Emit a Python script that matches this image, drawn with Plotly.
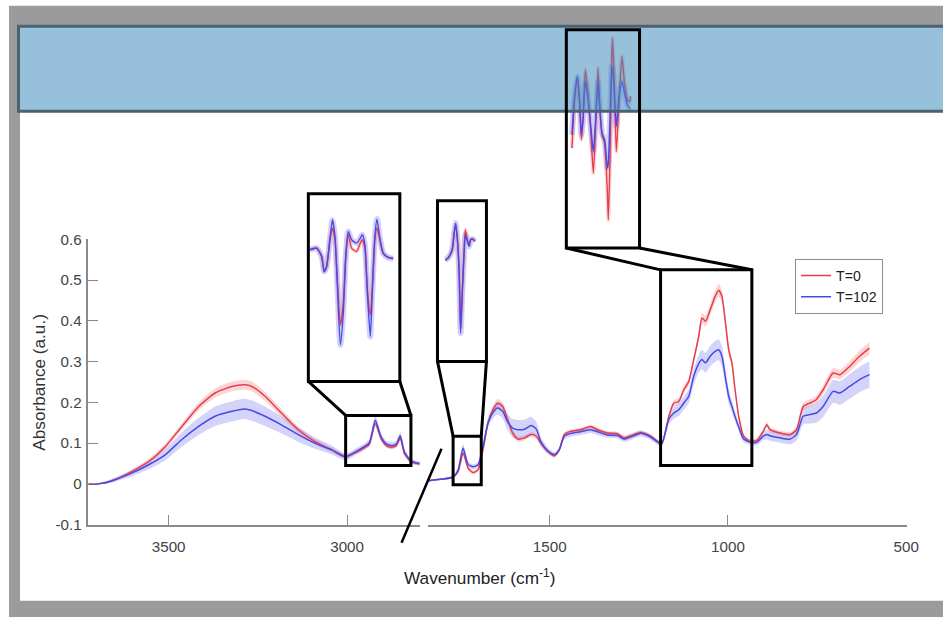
import plotly.graph_objects as go

# ---------------- data ----------------
# main spectrum, high-wavenumber segment
wn_left = [3725, 3700, 3685, 3670, 3649, 3602, 3556, 3509, 3463, 3416, 3370, 3323, 3286, 3267, 3230,
           3184, 3137, 3090, 3044, 3004, 2974, 2951, 2937, 2921, 2904, 2890, 2876, 2862, 2851, 2839,
           2820, 2797]
red_left = [0.0, 0.0, 0.002, 0.005, 0.011, 0.031, 0.055, 0.092, 0.141, 0.190, 0.223, 0.239, 0.243, 0.239, 0.215,
            0.174, 0.133, 0.104, 0.084, 0.068, 0.078, 0.089, 0.098, 0.148, 0.110, 0.094, 0.090, 0.094, 0.112, 0.074,
            0.054, 0.049]
red_left_sd = [0.002, 0.002, 0.002, 0.003, 0.004, 0.005, 0.006, 0.007, 0.008, 0.010, 0.011, 0.012, 0.012, 0.012, 0.011,
               0.010, 0.008, 0.007, 0.006, 0.005, 0.005, 0.005, 0.005, 0.008, 0.006, 0.005, 0.005, 0.005, 0.006, 0.005,
               0.004, 0.004]
blue_left = [0.0, 0.0, 0.002, 0.005, 0.011, 0.027, 0.047, 0.072, 0.109, 0.141, 0.166, 0.178, 0.184, 0.180, 0.166,
             0.145, 0.121, 0.100, 0.084, 0.066, 0.080, 0.092, 0.102, 0.156, 0.114, 0.098, 0.094, 0.098, 0.118, 0.078,
             0.056, 0.050]
blue_left_sd = [0.002, 0.002, 0.003, 0.004, 0.005, 0.008, 0.011, 0.014, 0.018, 0.021, 0.024, 0.025, 0.025, 0.025, 0.024,
                0.021, 0.018, 0.014, 0.011, 0.008, 0.008, 0.008, 0.009, 0.012, 0.009, 0.008, 0.008, 0.008, 0.009, 0.007,
                0.006, 0.005]

# main spectrum, fingerprint segment
wn_right = [1840, 1800, 1771, 1757, 1743, 1729, 1715, 1701, 1687, 1673, 1659, 1646, 1632, 1618, 1604,
            1589, 1571, 1552, 1538, 1525, 1506, 1487, 1473, 1459, 1440, 1413, 1385, 1366, 1338, 1310,
            1292, 1264, 1245, 1217, 1194, 1185, 1166, 1152, 1138, 1124, 1110, 1096, 1082, 1073, 1063,
            1050, 1036, 1026, 1017, 1007, 998, 989, 980, 970, 956, 938, 919, 901, 891, 882,
            854, 826, 808, 789, 771, 752, 733, 705, 686, 659, 631, 603]
red_right = [0.008, 0.012, 0.017, 0.030, 0.076, 0.039, 0.028, 0.035, 0.084, 0.150, 0.182, 0.198, 0.190, 0.158, 0.125,
             0.110, 0.113, 0.121, 0.117, 0.100, 0.080, 0.069, 0.084, 0.121, 0.129, 0.133, 0.141, 0.133, 0.125, 0.123,
             0.113, 0.121, 0.126, 0.117, 0.102, 0.100, 0.166, 0.198, 0.202, 0.231, 0.251, 0.305, 0.362, 0.407, 0.399,
             0.427, 0.460, 0.475, 0.460, 0.395, 0.329, 0.297, 0.231, 0.166, 0.117, 0.104, 0.107, 0.129, 0.145, 0.133,
             0.125, 0.121, 0.133, 0.190, 0.198, 0.207, 0.231, 0.272, 0.268, 0.288, 0.313, 0.333]
red_right_sd = [0.002, 0.002, 0.003, 0.004, 0.006, 0.005, 0.005, 0.005, 0.007, 0.009, 0.010, 0.011, 0.010, 0.009, 0.008,
                0.007, 0.006, 0.006, 0.006, 0.006, 0.005, 0.005, 0.005, 0.005, 0.005, 0.005, 0.005, 0.005, 0.005, 0.005,
                0.005, 0.005, 0.005, 0.005, 0.005, 0.005, 0.007, 0.008, 0.008, 0.009, 0.010, 0.011, 0.012, 0.013, 0.013,
                0.014, 0.015, 0.016, 0.015, 0.013, 0.011, 0.010, 0.008, 0.007, 0.005, 0.005, 0.005, 0.006, 0.006, 0.006,
                0.006, 0.006, 0.007, 0.009, 0.009, 0.010, 0.011, 0.012, 0.012, 0.013, 0.014, 0.015]
blue_right = [0.008, 0.012, 0.017, 0.034, 0.088, 0.048, 0.042, 0.047, 0.092, 0.150, 0.175, 0.186, 0.178, 0.152, 0.137,
              0.133, 0.134, 0.143, 0.135, 0.104, 0.082, 0.072, 0.084, 0.117, 0.124, 0.128, 0.133, 0.128, 0.120, 0.119,
              0.110, 0.118, 0.124, 0.115, 0.101, 0.100, 0.158, 0.174, 0.182, 0.198, 0.215, 0.264, 0.295, 0.305, 0.297,
              0.313, 0.325, 0.329, 0.313, 0.260, 0.215, 0.190, 0.165, 0.140, 0.110, 0.103, 0.102, 0.117, 0.121, 0.118,
              0.113, 0.110, 0.121, 0.166, 0.170, 0.174, 0.190, 0.227, 0.223, 0.239, 0.256, 0.268]
blue_right_sd = [0.002, 0.002, 0.003, 0.005, 0.010, 0.007, 0.006, 0.007, 0.010, 0.012, 0.014, 0.016, 0.018, 0.020, 0.022,
                 0.024, 0.024, 0.022, 0.018, 0.012, 0.008, 0.006, 0.006, 0.007, 0.008, 0.008, 0.008, 0.008, 0.007, 0.007,
                 0.007, 0.007, 0.007, 0.007, 0.006, 0.006, 0.012, 0.014, 0.015, 0.016, 0.018, 0.020, 0.022, 0.024, 0.024,
                 0.025, 0.026, 0.026, 0.025, 0.022, 0.018, 0.015, 0.012, 0.010, 0.008, 0.007, 0.007, 0.010, 0.012, 0.012,
                 0.012, 0.013, 0.015, 0.020, 0.022, 0.024, 0.026, 0.028, 0.029, 0.030, 0.031, 0.032]

# inset A : C-H stretch region (second derivative, a.u.)
insetA_wn = [3000, 2984, 2972, 2966, 2960, 2952, 2946, 2940, 2934, 2927, 2920, 2914, 2908, 2900, 2888,
             2879, 2874, 2868, 2862, 2855, 2850, 2844, 2839, 2832, 2824, 2812, 2800]
insetA_red = [0.20, 0.25, 0.00, -0.45, -0.30, 0.50, 0.85, 0.50, -0.80, -2.05, -1.40, 0.00, 0.65, 0.25, 0.15,
              0.40, 0.50, 0.25, -1.00, -1.75, -0.90, 0.50, 0.85, 0.50, 0.10, -0.03, -0.06]
insetA_blue = [0.20, 0.25, 0.00, -0.45, -0.30, 0.55, 1.10, 0.60, -0.90, -2.65, -1.70, 0.00, 0.75, 0.50, 0.40,
               0.55, 0.65, 0.35, -1.10, -2.40, -1.00, 0.60, 1.12, 0.55, 0.10, -0.03, -0.06]

# inset B : C=O region
insetB_wn = [1780, 1771, 1757, 1750, 1745, 1739, 1733, 1728, 1722, 1716, 1712, 1705, 1699, 1694, 1686, 1680]
insetB_red = [-0.12, -0.05, 0.20, 0.70, 0.95, 0.50, -0.50, -2.15, -1.00, 0.20, 0.80, 0.50, 0.35, 0.50, 0.52, 0.45]
insetB_blue = [-0.10, -0.05, 0.20, 0.72, 1.00, 0.50, -0.50, -2.30, -1.00, 0.15, 0.65, 0.45, 0.30, 0.50, 0.52, 0.45]

# inset C : 1200-950 region
insetC_wn = [1200, 1189, 1177, 1167, 1160, 1153, 1143, 1132, 1120, 1109, 1099, 1089, 1082, 1072, 1061,
             1049, 1045, 1038, 1030, 1027, 1021, 1011, 1000, 987, 976, 964, 954, 950]
insetC_red = [-0.85, 0.60, 1.25, 0.50, -0.60, 0.00, 1.50, 0.80, -0.30, -1.60, -0.20, 1.55, 0.50, -0.45, -0.70,
              -2.20, -3.00, -1.20, 2.00, 2.45, 1.40, -0.95, 0.50, 1.90, 1.10, 0.60, 0.55, 0.70]
insetC_blue = [-0.45, 0.70, 1.30, 0.50, -0.45, 0.00, 1.15, 0.65, -0.20, -0.95, 0.00, 1.15, 0.40, -0.40, -0.60,
               -1.45, -1.30, 0.00, 1.60, 1.50, 1.00, -0.20, 0.70, 1.15, 0.80, 0.45, 0.35, 0.35]

series_names = ["T=0", "T=102"]
y_tick_vals = [-0.1, 0, 0.1, 0.2, 0.3, 0.4, 0.5, 0.6]
y_tick_text = ["-0.1", "0", "0.1", "0.2", "0.3", "0.4", "0.5", "0.6"]
x_left_ticks = [3500, 3000]
x_right_ticks = [1500, 1000, 500]

# ---------------- layout helpers ----------------
# figure canvas; positions below are given in target-picture pixels and mapped to paper fractions
W, H = 956, 626
SX, OX = 0.9886, -2.0     # observed picture mapping: out = OX + SX * canvas
SY, OY = 0.973, 9.2
def fx(p): return ((p - OX) / SX) / W
def fy(p): return 1 - ((p - OY) / SY) / H
FS = 1.0 / SX             # font compensation

RED = "rgb(232,62,72)"
BLUE = "rgb(72,72,232)"
RED_FILL = "rgba(240,100,105,0.28)"
BLUE_FILL = "rgba(100,100,240,0.28)"
FONT = "Liberation Sans, Arial, sans-serif"

XL_RANGE = [3725, 2795]
XR_RANGE = [1840, 498]
Y_RANGE = [-0.1, 0.6]
XL_DOM = [fx(86.5), fx(418.7)]
XR_DOM = [fx(427), fx(906)]
Y_DOM = [fy(525), fy(239.5)]

INSETS = {
    "A": dict(xd=[fx(306.7), fx(398.3)], yd=[fy(381.7), fy(194)], xr=[3004, 2784], yr=[-3.75, 1.88]),
    "B": dict(xd=[fx(436), fx(485)], yd=[fy(361.7), fy(201)], xr=[1807, 1640], yr=[-3.15, 1.67]),
    "C": dict(xd=[fx(565), fx(638.3)], yd=[fy(248.3), fy(30)], xr=[1224, 912], yr=[-3.85, 2.7]),
}
# small boxes on the main axes (data coordinates)
SMALL = {
    "A": dict(ax="x", x0=3004, x1=2821, y0=0.045, y1=0.168),
    "B": dict(ax="x2", x0=1771, x1=1692, y0=-0.002, y1=0.117),
    "C": dict(ax="x2", x0=1189, x1=933, y0=0.045, y1=0.525),
}

def data_to_paper_x(w, ax):
    dom, rng = (XL_DOM, XL_RANGE) if ax == "x" else (XR_DOM, XR_RANGE)
    return dom[0] + (w - rng[0]) / (rng[1] - rng[0]) * (dom[1] - dom[0])

def data_to_paper_y(v):
    return Y_DOM[0] + (v - Y_RANGE[0]) / (Y_RANGE[1] - Y_RANGE[0]) * (Y_DOM[1] - Y_DOM[0])

fig = go.Figure()

def add_band(x, m, sd, fill, xa):
    lo = [a - b for a, b in zip(m, sd)]
    hi = [a + b for a, b in zip(m, sd)]
    fig.add_trace(go.Scatter(x=x, y=lo, mode="lines", line=dict(width=0, shape="spline", smoothing=0.6),
                             xaxis=xa, yaxis="y", showlegend=False, hoverinfo="skip"))
    fig.add_trace(go.Scatter(x=x, y=hi, mode="lines", line=dict(width=0, shape="spline", smoothing=0.6),
                             fill="tonexty", fillcolor=fill, xaxis=xa, yaxis="y",
                             showlegend=False, hoverinfo="skip"))

for xs, r, rsd, b, bsd, xa in [(wn_left, red_left, red_left_sd, blue_left, blue_left_sd, "x"),
                                (wn_right, red_right, red_right_sd, blue_right, blue_right_sd, "x2")]:
    add_band(xs, r, rsd, RED_FILL, xa)
    add_band(xs, b, bsd, BLUE_FILL, xa)
    fig.add_trace(go.Scatter(x=xs, y=r, mode="lines", name=series_names[0],
                             line=dict(color=RED, width=1.5, shape="spline", smoothing=0.6),
                             xaxis=xa, yaxis="y", showlegend=(xa == "x"), legendrank=1))
    fig.add_trace(go.Scatter(x=xs, y=b, mode="lines", name=series_names[1],
                             line=dict(color=BLUE, width=1.5, shape="spline", smoothing=0.6),
                             xaxis=xa, yaxis="y", showlegend=(xa == "x"), legendrank=2))

inset_data = {"A": (insetA_wn, insetA_red, insetA_blue),
              "B": (insetB_wn, insetB_red, insetB_blue),
              "C": (insetC_wn, insetC_red, insetC_blue)}
axis_ids = {"A": "3", "B": "4", "C": "5"}
for key, (xs, r, b) in inset_data.items():
    n = axis_ids[key]
    xa, ya = "x" + n, "y" + n
    for y, col, w in [(r, "rgba(240,100,105,0.25)", 4), (b, "rgba(100,100,240,0.28)", 6)]:
        fig.add_trace(go.Scatter(x=xs, y=y, mode="lines", line=dict(color=col, width=w, shape="spline", smoothing=0.6),
                                 xaxis=xa, yaxis=ya, showlegend=False, hoverinfo="skip"))
    fig.add_trace(go.Scatter(x=xs, y=r, mode="lines", line=dict(color=RED, width=1.4, shape="spline", smoothing=0.6),
                             xaxis=xa, yaxis=ya, showlegend=False))
    fig.add_trace(go.Scatter(x=xs, y=b, mode="lines", line=dict(color=BLUE, width=1.4, shape="spline", smoothing=0.6),
                             xaxis=xa, yaxis=ya, showlegend=False))

axis_common = dict(showline=True, linecolor="#8a8a8a", linewidth=1.5, ticks="inside", ticklen=10,
                   tickcolor="#8a8a8a", tickwidth=1.2, showgrid=False, zeroline=False,
                   tickfont=dict(family=FONT, size=15 * FS, color="#444444"))
layout = dict(
    width=W, height=H, margin=dict(l=0, r=0, t=0, b=0),
    paper_bgcolor="white", plot_bgcolor="rgba(0,0,0,0)",
    xaxis=dict(domain=XL_DOM, range=XL_RANGE, anchor="y", tickvals=x_left_ticks,
               ticktext=[str(v) for v in x_left_ticks], ticklabelstandoff=7, **axis_common),
    xaxis2=dict(domain=XR_DOM, range=XR_RANGE, anchor="y", tickvals=x_right_ticks,
                ticktext=[str(v) for v in x_right_ticks], ticklabelstandoff=7, **axis_common),
    yaxis=dict(domain=Y_DOM, range=Y_RANGE, anchor="x", tickvals=y_tick_vals, ticktext=y_tick_text,
               ticklabelstandoff=2, **axis_common),
    showlegend=True,
    legend=dict(x=fx(794), y=fy(259), xanchor="left", yanchor="top", bgcolor="white",
                bordercolor="#8c8c8c", borderwidth=1, font=dict(family=FONT, size=14 * FS, color="#222222"),
                tracegroupgap=0, itemwidth=30, traceorder="normal"),
)
for key, n in axis_ids.items():
    ins = INSETS[key]
    layout["xaxis" + n] = dict(domain=ins["xd"], range=ins["xr"], anchor="y" + n, visible=False)
    layout["yaxis" + n] = dict(domain=ins["yd"], range=ins["yr"], anchor="x" + n, visible=False)
fig.update_layout(**layout)

shapes = []
# grey frame and white page
shapes.append(dict(type="rect", xref="paper", yref="paper", x0=fx(7), x1=1.1, y0=-0.1, y1=fy(6),
                   fillcolor="#9b9b9b", line=dict(width=0), layer="below"))
shapes.append(dict(type="rect", xref="paper", yref="paper", x0=fx(18), x1=1.1, y0=fy(601), y1=fy(27),
                   fillcolor="white", line=dict(width=0), layer="below"))
# blue band across the top (semi-transparent)
shapes.append(dict(type="rect", xref="paper", yref="paper", x0=fx(16.5), x1=1.05, y0=fy(111.5), y1=fy(26.5),
                   fillcolor="rgba(66,140,188,0.55)", line=dict(color="#4b6273", width=3), layer="above"))
# inset frames, small boxes and connectors
for key, n in axis_ids.items():
    ins, sm = INSETS[key], SMALL[key]
    shapes.append(dict(type="rect", xref="x" + n + " domain", yref="y" + n + " domain", x0=0, x1=1, y0=0, y1=1,
                       line=dict(color="black", width=3), layer="above"))
    shapes.append(dict(type="rect", xref=sm["ax"], yref="y", x0=sm["x0"], x1=sm["x1"], y0=sm["y0"], y1=sm["y1"],
                       line=dict(color="black", width=3), layer="above"))
    top = data_to_paper_y(sm["y1"])
    for bx, sx in [(ins["xd"][0], sm["x0"]), (ins["xd"][1], sm["x1"])]:
        shapes.append(dict(type="line", xref="paper", yref="paper", x0=bx, y0=ins["yd"][0],
                           x1=data_to_paper_x(sx, sm["ax"]), y1=top,
                           line=dict(color="black", width=3), layer="above"))
# axis break slash
shapes.append(dict(type="line", xref="paper", yref="paper", x0=fx(400), y0=fy(543), x1=fx(440), y1=fy(449),
                   line=dict(color="black", width=2.5), layer="above"))
fig.update_layout(shapes=shapes)

fig.add_annotation(text="Absorbance (a.u.)", xref="paper", yref="paper", x=fx(37), y=fy(382),
                   xanchor="center", yanchor="middle",
                   textangle=-90, showarrow=False, font=dict(family=FONT, size=17 * FS, color="#333333"))
fig.add_annotation(text="Wavenumber (cm<sup>-1</sup>)", xref="paper", yref="paper", x=fx(478), y=fy(577),
                   xanchor="center", yanchor="middle",
                   showarrow=False, font=dict(family=FONT, size=17 * FS, color="#222222"))

fig.write_html("out.html", config={"displayModeBar": False},
               post_script="document.body.style.margin='0px';document.body.style.padding='0px';"
                           "document.body.style.overflow='hidden';")
